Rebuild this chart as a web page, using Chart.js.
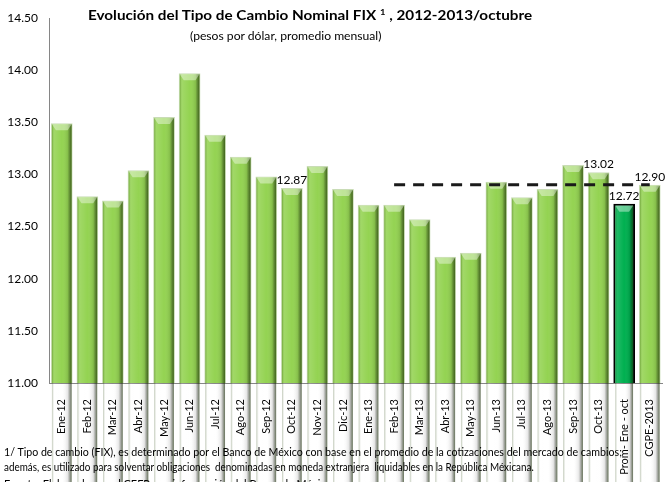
<!DOCTYPE html>
<html>
<head>
<meta charset="utf-8">
<script src="https://cdn.jsdelivr.net/npm/chart.js@4/dist/chart.umd.min.js"></script>
<style>
  body { margin: 0; background: #fff; }
  #wrap { position: relative; width: 671px; height: 482px; overflow: hidden; font-family: Lato, "Open Sans", sans-serif; }
  #chart { position: absolute; left: 0; top: 0; }
  .txt { position: absolute; white-space: nowrap; transform-origin: 0 0; color: #000; }
  #title { left: 88px; top: 7px; font-size: 13px; font-weight: bold; }
  #title sup { font-size: 8px; vertical-align: 5px; }
  #sub { left: 190px; top: 29px; font-size: 11px; }
  .foot { left: 4px; font-size: 11px; }
</style>
</head>
<body>
<div id="wrap">
  <canvas id="chart" width="671" height="482"></canvas>
  <div id="title" class="txt" data-w="444">Evolución del Tipo de Cambio Nominal FIX <sup>1</sup> , 2012-2013/octubre</div>
  <div id="sub" class="txt" data-w="192">(pesos por dólar, promedio mensual)</div>
  <div class="txt foot" style="top:445px" data-w="618">1/ Tipo de cambio (FIX), es determinado por el Banco de México con base en el promedio de la cotizaciones del mercado de cambios;</div>
  <div class="txt foot" style="top:460px" data-w="530">además, es utilizado para solventar obligaciones&nbsp; denominadas en moneda extranjera&nbsp; liquidables en la República Méxicana.</div>
  <div class="txt foot" style="top:477px" data-w="330">Fuente: Elaborado por el CEFP con información del Banco de México.</div>
</div>
<script>
const months = ['Ene-12', 'Feb-12', 'Mar-12', 'Abr-12', 'May-12', 'Jun-12', 'Jul-12', 'Ago-12', 'Sep-12', 'Oct-12', 'Nov-12', 'Dic-12',
                'Ene-13', 'Feb-13', 'Mar-13', 'Abr-13', 'May-13', 'Jun-13', 'Jul-13', 'Ago-13', 'Sep-13', 'Oct-13'];
const extraLabels = ['Prom- Ene - oct', 'CGPE-2013'];
const fixValues = [13.49, 12.79, 12.75, 13.04, 13.55, 13.97, 13.38, 13.17, 12.98, 12.87, 13.08, 12.86,
                   12.71, 12.71, 12.57, 12.21, 12.25, 12.93, 12.78, 12.86, 13.09, 13.02];
const promValue = 12.72;
const cgpeValue = 12.90;
const labeledBars = ['Oct-12', 'Oct-13', 'Prom- Ene - oct', 'CGPE-2013'];
const cgpeLineFrom = 'Feb-13';
const yTicks = { min: 11, max: 14.5, step: 0.5 };

const labels = months.concat(extraLabels);
const values = fixValues.concat([promValue, cgpeValue]);
const lineStart = labels.indexOf(cgpeLineFrom);
const cgpeLine = labels.map((l, i) => i >= lineStart ? cgpeValue : null);
const promIdx = labels.indexOf('Prom- Ene - oct');

// bevel / shading like the Excel 3D bars
const bevelPlugin = {
  id: 'bevel',
  afterDatasetDraw(chart, args) {
    if (args.index !== 0) return;
    const ctx = chart.ctx;
    args.meta.data.forEach((bar, i) => {
      const inset = i === promIdx ? 2 : 1;
      const l = bar.x - bar.width / 2 + inset;
      const r = bar.x + bar.width / 2 - inset;
      const t = bar.y + inset;
      const b = bar.base - inset;
      ctx.save();
      const g = ctx.createLinearGradient(l, 0, r, 0);
      g.addColorStop(0, 'rgba(30,60,0,0.30)');
      g.addColorStop(0.12, 'rgba(255,255,255,0.12)');
      g.addColorStop(0.5, 'rgba(255,255,255,0)');
      g.addColorStop(0.8, 'rgba(0,0,0,0.1)');
      g.addColorStop(1, 'rgba(20,40,0,0.65)');
      ctx.fillStyle = g;
      ctx.fillRect(l, t, r - l, b - t);
      ctx.beginPath();
      ctx.moveTo(l, t);
      ctx.lineTo(r, t);
      ctx.lineTo(r - 4, t + 6);
      ctx.lineTo(l + 4, t + 6);
      ctx.closePath();
      ctx.fillStyle = 'rgba(255,255,255,0.4)';
      ctx.fill();
      ctx.fillStyle = 'rgba(20,40,0,0.35)';
      ctx.fillRect(l, b - 3, r - l, 3);
      ctx.restore();
    });
  }
};

const valueLabels = {
  id: 'valueLabels',
  afterDatasetsDraw(chart) {
    const ctx = chart.ctx;
    const meta = chart.getDatasetMeta(0);
    ctx.save();
    ctx.font = '12px Lato, sans-serif';
    ctx.fillStyle = '#000';
    ctx.textAlign = 'center';
    ctx.textBaseline = 'bottom';
    labeledBars.forEach(name => {
      const i = labels.indexOf(name);
      const bar = meta.data[i];
      ctx.fillText(values[i].toFixed(2), bar.x, bar.y - 2);
    });
    ctx.restore();
  }
};

new Chart(document.getElementById('chart'), {
  data: {
    labels: labels,
    datasets: [{
      type: 'bar',
      data: values,
      order: 1,
      backgroundColor: labels.map((l, i) => i === promIdx ? '#00B050' : '#94D352'),
      borderColor: labels.map((l, i) => i === promIdx ? '#000000' : '#c9dcb6'),
      borderWidth: labels.map((l, i) => i === promIdx ? 2 : 1),
      categoryPercentage: 1,
      barPercentage: 0.85
    }, {
      type: 'line',
      data: cgpeLine,
      order: 0,
      borderColor: '#1a1a1a',
      borderWidth: 3,
      borderDash: [11, 8],
      pointRadius: 0,
      fill: false
    }]
  },
  options: {
    responsive: false,
    animation: false,
    layout: { padding: { top: 18, right: 2, left: 0, bottom: 0 } },
    plugins: { legend: { display: false }, tooltip: { enabled: false } },
    scales: {
      x: {
        grid: { display: false },
        border: { display: true, color: '#868686' },
        ticks: { minRotation: 90, maxRotation: 90, autoSkip: false, padding: 8, color: '#000', font: { family: 'Lato', size: 11 } },
        afterFit(s) { s.height = 99; }
      },
      y: {
        min: yTicks.min,
        max: yTicks.max,
        grid: { display: false },
        border: { display: true, color: '#868686' },
        ticks: {
          stepSize: yTicks.step,
          padding: 3,
          color: '#000',
          font: { family: 'Lato', size: 12 },
          callback: v => v.toFixed(2)
        },
        afterFit(s) { s.width = 49; }
      }
    }
  },
  plugins: [bevelPlugin, valueLabels]
});

function fitText() {
  document.querySelectorAll('.txt').forEach(el => {
    const w = +el.dataset.w;
    el.style.transform = 'scaleX(' + (w / el.scrollWidth) + ')';
  });
}
document.fonts.ready.then(fitText);
fitText();
</script>
</body>
</html>
